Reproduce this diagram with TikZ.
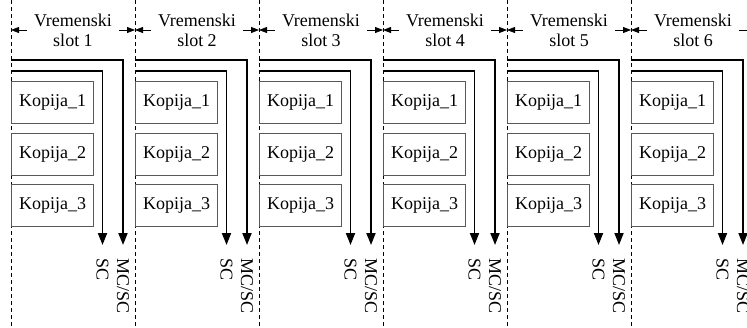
\documentclass[tikz,border=0pt]{standalone}
\usepackage{fontspec}
\setmainfont{Liberation Serif}
\usetikzlibrary{arrows.meta}
\begin{document}
\begin{tikzpicture}[x=0.5pt,y=-0.5pt,font=\fontsize{9}{10}\selectfont,
	kopija/.style={draw=black!65, line width=0.5pt, minimum width=41pt, minimum height=21pt, inner sep=0pt, anchor=north west},
	signal/.style={line width=0.9pt, -{Triangle[length=6pt,width=4.5pt]}},
	granica/.style={line width=0.4pt, dash pattern=on 2pt off 1.5pt},
	mjera/.style={line width=0.4pt, -{Triangle[length=4pt,width=3pt]}}]
	\useasboundingbox (0,0) rectangle (747,327);
	\foreach \i in {1,...,6}{
		\pgfmathsetmacro{\xo}{11+124*(\i-1)}
		% granica slota
		\coordinate (gore\i) at (\xo,0);
		\coordinate (dolje\i) at (\xo,327);
		\draw[granica] (gore\i) -- (dolje\i);
		% oznaka slota
		\node[align=center] (slot\i) at (\xo+62,30) {Vremenski\\slot \i};
		\coordinate (lijevo\i) at (\xo,30);
		\coordinate (desno\i) at (\xo+124,30);
		\draw[mjera] (slot\i.west) -- (lijevo\i);
		\draw[mjera] (slot\i.east) -- (desno\i);
		% kopije
		\node[kopija] (kop\i-1) at (\xo,81) {Kopija\_1};
		\node[kopija] (kop\i-2) at (\xo,132.5) {Kopija\_2};
		\node[kopija] (kop\i-3) at (\xo,184) {Kopija\_3};
		% signali
		\coordinate (mcpoc\i) at (\xo,60);
		\coordinate (mckraj\i) at (\xo+112,245);
		\coordinate (scpoc\i) at (\xo,71);
		\coordinate (sckraj\i) at (\xo+91.5,245);
		\draw[signal] (mcpoc\i) -| (mckraj\i);
		\draw[signal] (scpoc\i) -| (sckraj\i);
		\node[rotate=-90, anchor=west] (sc\i) at (\xo+91.5,251) {SC};
		\node[rotate=-90, anchor=west] (mc\i) at (\xo+112,251) {MC/SC};
	}
\end{tikzpicture}
\end{document}
